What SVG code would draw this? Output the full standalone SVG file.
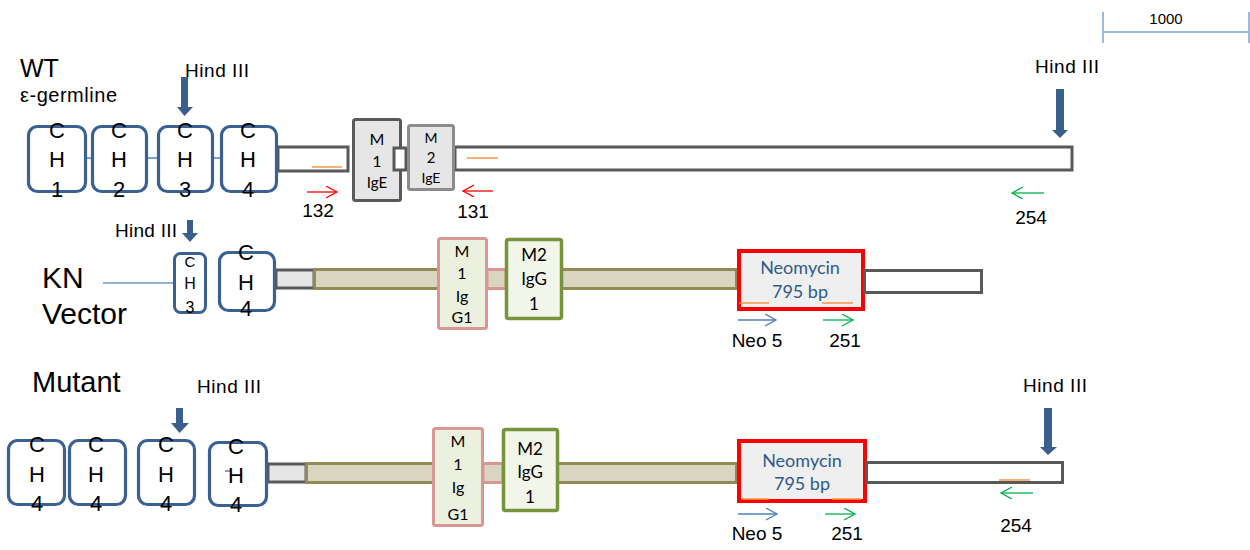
<svg xmlns="http://www.w3.org/2000/svg" width="1250" height="550" viewBox="0 0 1250 550">
<style>
.lbl{font-family:"Liberation Sans",Arial,sans-serif;fill:#000}
.ch{fill:#fff;stroke:#3b6193;stroke-width:3.2}
.chsm{fill:#fff;stroke:#3b6193;stroke-width:3}
.cht{font-family:"Liberation Sans",Arial,sans-serif;font-size:22px;fill:#000;text-anchor:middle}
.bar{fill:#fff;stroke:#595959;stroke-width:3}
.bargray{fill:#e6e6e6;stroke:#595959;stroke-width:3}
.tan{fill:#d9d5c0;stroke:#948a54;stroke-width:3}
.pink{fill:#ebf1de;stroke:#d99694;stroke-width:3}
.pinkc{fill:#d9d5c0;stroke:#d99694;stroke-width:3}
.olive{fill:#f2f5ea;stroke:#77933c;stroke-width:3.5}
.neo{fill:#efefef;stroke:#ff0000;stroke-width:4}
.neot{font-family:Lato,"Open Sans",sans-serif;font-size:18px;fill:#2e5b8c;text-anchor:middle}
.mt{font-family:Lato,"Open Sans",sans-serif;fill:#000;text-anchor:middle}
.orange{stroke:#f79646;stroke-width:1.5}
.hind{fill:#3b5f8c}
.pr{fill:none;stroke-width:1.3}
.num{font-family:"Liberation Sans",Arial,sans-serif;font-size:19px;fill:#000;text-anchor:middle}
.hl{font-family:"Liberation Sans",Arial,sans-serif;font-size:19px;fill:#000}
</style>
<defs>
<marker id="hr" markerWidth="13" markerHeight="13" refX="11" refY="6" orient="auto" markerUnits="userSpaceOnUse"><path d="M0,0 L11,6 L0,12" fill="none" stroke="#ff0000" stroke-width="1.3"/></marker>
<marker id="hg" markerWidth="13" markerHeight="13" refX="11" refY="6" orient="auto" markerUnits="userSpaceOnUse"><path d="M0,0 L11,6 L0,12" fill="none" stroke="#00b050" stroke-width="1.3"/></marker>
<marker id="hb" markerWidth="13" markerHeight="13" refX="11" refY="6" orient="auto" markerUnits="userSpaceOnUse"><path d="M0,0 L11,6 L0,12" fill="none" stroke="#4f81bd" stroke-width="1.3"/></marker>
</defs>

<!-- scale bar -->
<g id="scale">
<path d="M1103,12 V43 M1249,12 V43 M1103,32 H1249" stroke="#7ea4d4" stroke-width="1.5" fill="none"/>
<text x="1166" y="24" class="lbl" font-size="15" text-anchor="middle">1000</text>
</g>

<!-- titles -->
<g id="titles">
<text x="20" y="77" class="lbl" font-size="25">WT</text>
<text x="20" y="102" class="lbl" font-size="20" textLength="97">ε-germline</text>
<text x="42" y="288" class="lbl" font-size="30">KN</text>
<text x="42" y="324" class="lbl" font-size="30">Vector</text>
<text x="32" y="392" class="lbl" font-size="29">Mutant</text>
</g>

<!-- ===== WT row ===== -->
<g id="wt-bar1"><rect x="278" y="147" width="70" height="24" class="bar"/><line x1="312" y1="167" x2="342" y2="167" class="orange"/></g>
<g id="wt-bar2"><rect x="455" y="147" width="617" height="23" class="bar"/><line x1="467" y1="158" x2="498" y2="158" class="orange"/></g>
<g id="wt-links"><path d="M87,158 H91 M148,158 H157 M213,158 H220" stroke="#7ea4d4" stroke-width="2"/></g>
<g id="wt-ch1"><rect x="28.5" y="126.5" width="57" height="65" rx="9" class="ch"/><text class="cht" x="57" y="138">C</text><text class="cht" x="57" y="167">H</text><text class="cht" x="57" y="197">1</text></g>
<g id="wt-ch2"><rect x="92.5" y="126.5" width="54" height="65" rx="9" class="ch"/><text class="cht" x="119" y="138">C</text><text class="cht" x="119" y="167">H</text><text class="cht" x="119" y="197">2</text></g>
<g id="wt-ch3"><rect x="158.5" y="126.5" width="54" height="65" rx="9" class="ch"/><text class="cht" x="185" y="138">C</text><text class="cht" x="185" y="167">H</text><text class="cht" x="185" y="197">3</text></g>
<g id="wt-ch4"><rect x="221.5" y="126.5" width="55" height="65" rx="9" class="ch"/><text class="cht" x="248" y="138">C</text><text class="cht" x="248" y="167">H</text><text class="cht" x="248" y="197">4</text></g>
<g id="wt-m1"><rect x="353.5" y="119.5" width="47" height="81" rx="2" fill="#e6e6e6" stroke="#595959" stroke-width="3"/><text class="mt" font-size="16" x="377" y="145">M</text><text class="mt" font-size="16" x="377" y="167">1</text><text class="mt" font-size="15" x="377" y="188">IgE</text></g>
<g id="wt-link-m"><rect x="394" y="148" width="12" height="22" fill="#fff" stroke="#595959" stroke-width="3"/></g>
<g id="wt-m2"><rect x="408.5" y="125.5" width="45" height="64" rx="2" fill="#e6e6e6" stroke="#8c8c8c" stroke-width="3"/><text class="mt" font-size="14" x="431" y="143">M</text><text class="mt" font-size="15" x="431" y="163">2</text><text class="mt" font-size="14" x="431" y="183">IgE</text></g>

<!-- ===== KN row ===== -->
<g id="kn-line"><line x1="103" y1="283" x2="175" y2="283" stroke="#6f97cc" stroke-width="1.5"/></g>
<g id="kn-gray"><rect x="276" y="270" width="38" height="18" class="bargray"/></g>
<g id="kn-tan"><rect x="314.5" y="269.5" width="422" height="19" class="tan"/></g>
<g id="kn-link"><rect x="487" y="269.5" width="19" height="19" class="pinkc"/></g>
<g id="kn-ch3"><rect x="174.5" y="253.5" width="31" height="59" rx="6" class="chsm"/><text class="cht" x="190" y="267" style="font-size:15px">C</text><text class="cht" x="190" y="289" style="font-size:16px">H</text><text class="cht" x="190" y="313" style="font-size:16px">3</text></g>
<g id="kn-ch4"><rect x="219.5" y="252.5" width="55" height="58" rx="9" class="ch"/><text class="cht" x="246" y="260">C</text><text class="cht" x="246" y="290">H</text><text class="cht" x="246" y="316">4</text></g>
<g id="kn-m1"><rect x="438.5" y="238.5" width="48" height="90" rx="2" class="pink"/><text class="mt" font-size="16" x="462" y="257">M</text><text class="mt" font-size="16" x="462" y="279">1</text><text class="mt" font-size="16" x="462" y="302">Ig</text><text class="mt" font-size="16" x="462" y="323">G1</text></g>
<g id="kn-m2"><rect x="506.5" y="239.5" width="55" height="79" rx="2" class="olive"/><text class="mt" font-size="17" x="534" y="261">M2</text><text class="mt" font-size="17" x="534" y="285">IgG</text><text class="mt" font-size="17" x="534" y="310">1</text></g>
<g id="kn-neo"><rect x="739" y="251" width="124" height="58" class="neo"/><text class="neot" x="800" y="274">Neomycin</text><text class="neot" x="800" y="298">795 bp</text><line x1="739" y1="303" x2="769" y2="303" class="orange"/><line x1="822" y1="303" x2="853" y2="303" class="orange"/></g>
<g id="kn-bar"><rect x="864.5" y="270.5" width="117" height="22" class="bar"/></g>

<!-- ===== Mutant row ===== -->
<g id="mu-gray"><rect x="268" y="464" width="38" height="18" class="bargray"/></g>
<g id="mu-tan"><rect x="306.5" y="463.5" width="430" height="19" class="tan"/></g>
<g id="mu-link"><rect x="483" y="463.5" width="20" height="19" class="pinkc"/></g>
<g id="mu-ch1"><rect x="8.5" y="440.5" width="56" height="64" rx="9" class="ch"/><text class="cht" x="37" y="452">C</text><text class="cht" x="37" y="482">H</text><text class="cht" x="37" y="511">4</text></g>
<g id="mu-ch2"><rect x="69.5" y="440.5" width="56" height="64" rx="9" class="ch"/><text class="cht" x="96" y="452">C</text><text class="cht" x="96" y="482">H</text><text class="cht" x="96" y="511">4</text></g>
<g id="mu-ch3"><rect x="138.5" y="440.5" width="56" height="64" rx="9" class="ch"/><text class="cht" x="166" y="452">C</text><text class="cht" x="166" y="482">H</text><text class="cht" x="166" y="511">4</text></g>
<g id="mu-ch4"><rect x="209.5" y="442.5" width="57" height="63" rx="9" class="ch"/><line x1="225" y1="471" x2="231" y2="471" stroke="#3b6193" stroke-width="1.2"/><text class="cht" x="236" y="454">C</text><text class="cht" x="236" y="483">H</text><text class="cht" x="236" y="512">4</text></g>
<g id="mu-m1"><rect x="433.5" y="428.5" width="49" height="97" rx="2" class="pink"/><text class="mt" font-size="16" x="458" y="447">M</text><text class="mt" font-size="16" x="458" y="470">1</text><text class="mt" font-size="16" x="458" y="493">Ig</text><text class="mt" font-size="16" x="458" y="520">G1</text></g>
<g id="mu-m2"><rect x="503.5" y="429.5" width="54" height="81" rx="2" class="olive"/><text class="mt" font-size="17" x="530" y="455">M2</text><text class="mt" font-size="17" x="530" y="478">IgG</text><text class="mt" font-size="17" x="530" y="503">1</text></g>
<g id="mu-neo"><rect x="739" y="441" width="126" height="60" class="neo"/><text class="neot" x="802" y="467">Neomycin</text><text class="neot" x="802" y="490">795 bp</text><line x1="741" y1="499" x2="769" y2="499" class="orange"/><line x1="832" y1="499" x2="861" y2="499" class="orange"/></g>
<g id="mu-bar"><rect x="866.5" y="462.5" width="196" height="20" class="bar"/><line x1="999" y1="480" x2="1030" y2="480" class="orange"/></g>

<!-- Hind III labels -->
<g id="hind-labels">
<text class="hl" x="185" y="77" textLength="64">Hind III</text>
<text class="hl" x="1035" y="73" textLength="64">Hind III</text>
<text class="hl" x="115" y="237" textLength="62">Hind III</text>
<text class="hl" x="197" y="393" textLength="64">Hind III</text>
<text class="hl" x="1023" y="392" textLength="64">Hind III</text>
</g>

<!-- connectors: Hind III cut-site arrows and primer arrows -->
<g id="connectors">
<polygon class="hind" points="181,77 188,77 188,107 193,107 184.5,116 177,107 181,107"/>
<polygon class="hind" points="1056,89 1064,89 1064,130 1068,130 1060,138 1052,130 1056,130"/>
<polygon class="hind" points="187,220 193,220 193,233 198,233 190,242 182,233 187,233"/>
<polygon class="hind" points="176,408 183,408 183,423 189,423 179.5,433 171,423 176,423"/>
<polygon class="hind" points="1044,408 1052,408 1052,447 1057,447 1048,455 1040,447 1044,447"/>
<line x1="307" y1="192" x2="337" y2="192" class="pr" stroke="#ff0000" marker-end="url(#hr)"/>
<line x1="493" y1="191" x2="463" y2="191" class="pr" stroke="#ff0000" marker-end="url(#hr)"/>
<line x1="1044" y1="193" x2="1012" y2="193" class="pr" stroke="#00b050" marker-end="url(#hg)"/>
<line x1="738" y1="320" x2="776" y2="320" class="pr" stroke="#4f81bd" marker-end="url(#hb)"/>
<line x1="823" y1="320" x2="853" y2="320" class="pr" stroke="#00b050" marker-end="url(#hg)"/>
<line x1="738" y1="514" x2="777" y2="514" class="pr" stroke="#4f81bd" marker-end="url(#hb)"/>
<line x1="825" y1="514" x2="855" y2="514" class="pr" stroke="#00b050" marker-end="url(#hg)"/>
<line x1="1033" y1="493" x2="1001" y2="493" class="pr" stroke="#00b050" marker-end="url(#hg)"/>
</g>

<!-- primer labels -->
<g id="primer-labels">
<text class="num" x="318" y="217">132</text>
<text class="num" x="473" y="218">131</text>
<text class="num" x="1031" y="224">254</text>
<text class="num" x="757" y="347">Neo 5</text>
<text class="num" x="845" y="347">251</text>
<text class="num" x="757" y="540">Neo 5</text>
<text class="num" x="847" y="540">251</text>
<text class="num" x="1016" y="532">254</text>
</g>
</svg>
